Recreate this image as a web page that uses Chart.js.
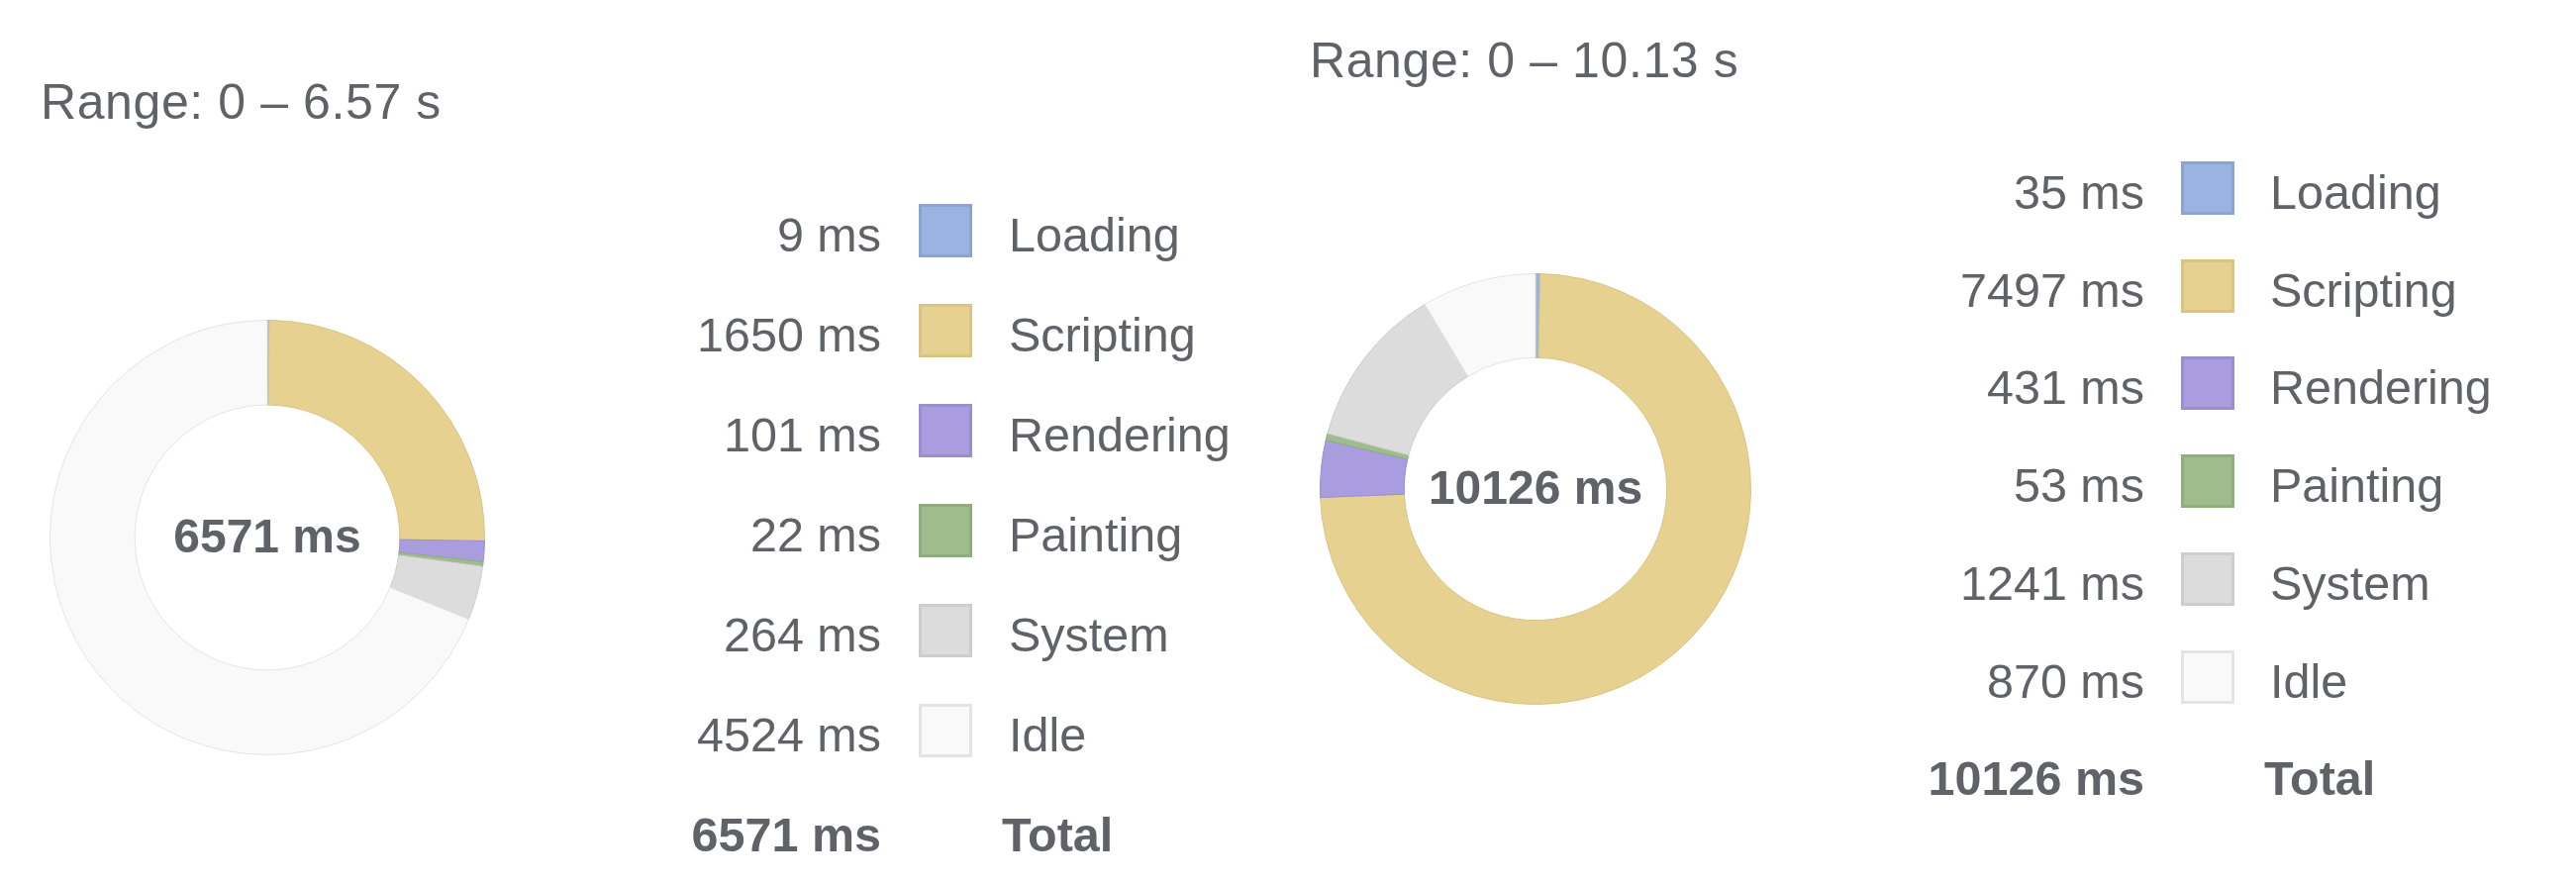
<!DOCTYPE html>
<html>
<head>
<meta charset="utf-8">
<script src="https://cdn.jsdelivr.net/npm/chart.js@4.4.1/dist/chart.umd.min.js"></script>
<style>
  html, body { margin: 0; padding: 0; background: #fff; }
  body { width: 2602px; height: 894px; position: relative; overflow: hidden;
         font-family: "Liberation Sans", Helvetica, Arial, sans-serif; color: #5f6368; }
  .range { position: absolute; font-size: 50px; line-height: 50px; letter-spacing: 0.6px; white-space: nowrap; }
  .donut { position: absolute; }
  .row { position: absolute; height: 60px; line-height: 60px; font-size: 48.5px; white-space: nowrap; }
  .row .val { position: absolute; text-align: right; }
  .row .sw { position: absolute; box-sizing: border-box; border: 3px solid; }
  .row .lab { position: absolute; }
  .row.total { font-weight: bold; }
</style>
</head>
<body>
<div id="rangeA" class="range"></div>
<canvas id="donutA" class="donut"></canvas>
<div id="legendA"></div>
<div id="rangeB" class="range"></div>
<canvas id="donutB" class="donut"></canvas>
<div id="legendB"></div>
<script>
// categories and colours (DevTools summary)
const categories = ["Loading", "Scripting", "Rendering", "Painting", "System", "Idle"];
const fillColors = ["#9ab3e0", "#e6d191", "#a99de0", "#9fbc8c", "#dcdcdc", "#f9f9f9"];
const edgeColors = ["#8ba4d2", "#d9c482", "#9a8ed2", "#90ad7d", "#cdcdcd", "#e4e4e4"];

// recording A
const rangeA = "Range: 0 \u2013 6.57 s";
const valuesA = [9, 1650, 101, 22, 264, 4524];
const totalA = 6571;

// recording B
const rangeB = "Range: 0 \u2013 10.13 s";
const valuesB = [35, 7497, 431, 53, 1241, 870];
const totalB = 10126;

const centerText = {
  id: "centerText",
  afterDraw(chart, args, opts) {
    const arc = chart.getDatasetMeta(0).data[0];
    if (!arc) return;
    const ctx = chart.ctx;
    ctx.save();
    ctx.font = "bold 48px 'Liberation Sans', Helvetica, Arial, sans-serif";
    ctx.fillStyle = "#5f6368";
    ctx.textAlign = "center";
    ctx.textBaseline = "middle";
    ctx.fillText(opts.text, arc.x, arc.y + 2);
    ctx.restore();
  }
};

function donut(id, values, total, box) {
  const el = document.getElementById(id);
  el.width = box.size;
  el.height = box.size;
  el.style.left = box.left + "px";
  el.style.top = box.top + "px";
  return new Chart(el, {
    type: "doughnut",
    data: {
      labels: categories,
      datasets: [{
        data: values,
        backgroundColor: fillColors,
        borderColor: edgeColors,
        borderWidth: 1,
      }],
    },
    options: {
      responsive: false,
      animation: false,
      events: [],
      cutout: "61%",
      layout: { padding: 0 },
      plugins: {
        legend: { display: false },
        tooltip: { enabled: false },
        centerText: { text: total + " ms" },
      },
    },
    plugins: [centerText],
  });
}

function legend(id, values, total, g) {
  const host = document.getElementById(id);
  const rows = categories.map((c, i) => ({ val: values[i] + " ms", lab: c, i }));
  rows.push({ val: total + " ms", lab: "Total", i: -1 });
  rows.forEach((r, k) => {
    const cy = g.firstY + k * g.step;
    const row = document.createElement("div");
    row.className = "row" + (r.i < 0 ? " total" : "");
    row.style.left = "0px";
    row.style.width = "2602px";
    row.style.top = (cy - 30 + 4) + "px";
    const v = document.createElement("span");
    v.className = "val";
    v.textContent = r.val;
    v.style.right = (2602 - g.valRight) + "px";
    v.style.width = "300px";
    row.appendChild(v);
    if (r.i >= 0) {
      const s = document.createElement("span");
      s.className = "sw";
      s.style.left = g.swLeft + "px";
      s.style.top = (30 - 4 - 27) + "px";
      s.style.width = "54px";
      s.style.height = "54px";
      s.style.background = fillColors[r.i];
      s.style.borderColor = edgeColors[r.i];
      row.appendChild(s);
    }
    const l = document.createElement("span");
    l.className = "lab";
    l.textContent = r.lab;
    l.style.left = (r.i < 0 ? g.totalLeft : g.labLeft) + "px";
    row.appendChild(l);
    host.appendChild(row);
  });
}

function placeRange(id, text, left, cy) {
  const el = document.getElementById(id);
  el.textContent = text;
  el.style.left = left + "px";
  el.style.top = (cy - 25) + "px";
}

placeRange("rangeA", rangeA, 41, 103);
placeRange("rangeB", rangeB, 1323, 61);

donut("donutA", valuesA, totalA, { size: 440, left: 50, top: 323 });
donut("donutB", valuesB, totalB, { size: 436, left: 1333, top: 276 });

legend("legendA", valuesA, totalA, { firstY: 233, step: 101, valRight: 890, swLeft: 928, labLeft: 1019, totalLeft: 1012 });
legend("legendB", valuesB, totalB, { firstY: 190, step: 98.7, valRight: 2166, swLeft: 2203, labLeft: 2293, totalLeft: 2287 });
</script>
</body>
</html>
